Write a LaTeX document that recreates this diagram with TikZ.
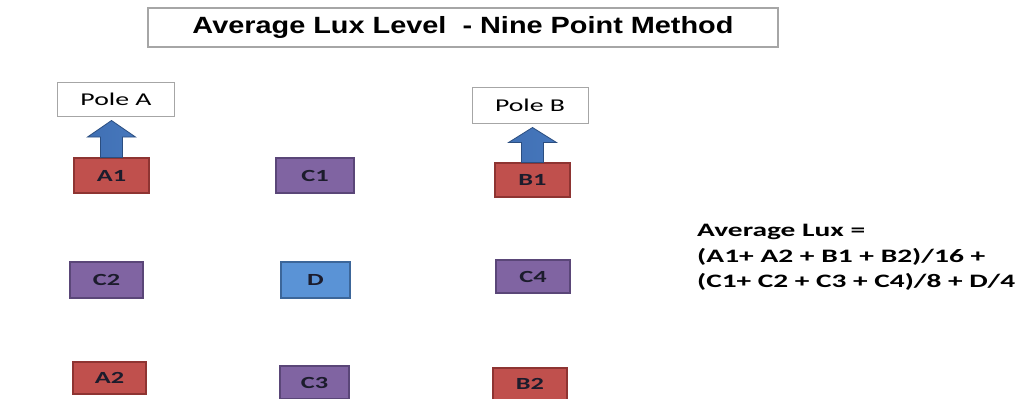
\documentclass[tikz,border=0pt]{standalone}
\usepackage{fontspec}
\usepackage{graphicx}
\setmainfont{Carlito}
\newfontfamily\titlefont{Liberation Sans}
\usetikzlibrary{calc}
\definecolor{redF}{HTML}{C0504D}
\definecolor{redD}{HTML}{8E3432}
\definecolor{purF}{HTML}{8064A2}
\definecolor{purD}{HTML}{5A4678}
\definecolor{bluF}{HTML}{5A93D6}
\definecolor{bluD}{HTML}{3C6699}
\definecolor{arrL}{HTML}{4070B4}
\definecolor{arrM}{HTML}{8DB3E3}
\definecolor{arrR}{HTML}{4677BC}
\definecolor{arrD}{HTML}{2B4E80}
\definecolor{txtD}{HTML}{1C1C2C}
\definecolor{frameG}{HTML}{A6A6A6}
\newcommand\lbl[1]{\scalebox{1.55}[1]{\bfseries\fontsize{17pt}{17pt}\selectfont #1}}
\begin{document}
\begin{tikzpicture}[x=1pt,y=-1pt,
  cell/.style={inner sep=0pt, line width=1.2pt, text=txtD},
  redbox/.style={cell, fill=redF, draw=redD},
  purbox/.style={cell, fill=purF, draw=purD},
  blubox/.style={cell, fill=bluF, draw=bluD},
  polebox/.style={draw=frameG, line width=1pt, fill=white, inner sep=0pt},
  titlebox/.style={draw=frameG, line width=1.5pt, fill=white, inner sep=0pt},
  arrowstyle/.style={left color=arrL, middle color=arrM, right color=arrR, draw=arrD, line width=0.8pt, line join=miter}]
\useasboundingbox[fill=white] (0,0) rectangle (1018,399);

\node[titlebox, minimum width=630pt, minimum height=39pt] (title) at (463,27.5)
  {\resizebox{541pt}{\height}{\titlefont\bfseries\fontsize{23.5pt}{23.5pt}\selectfont Average Lux Level \ - Nine Point Method}};

\node[polebox, minimum width=117pt, minimum height=34pt] (PoleA) at (116,99.5)
  {\resizebox{71pt}{\height}{\fontsize{18pt}{18pt}\selectfont Pole A}};
\node[polebox, minimum width=116pt, minimum height=36pt] (PoleB) at (530,105)
  {\resizebox{70pt}{\height}{\fontsize{18pt}{18pt}\selectfont Pole B}};

\node[redbox, minimum width=75pt, minimum height=35pt] (A1) at (111.5,175.5) {\lbl{A1}};
\node[purbox, minimum width=78pt, minimum height=35pt] (C1) at (315,175.5) {\lbl{C1}};
\node[redbox, minimum width=75pt, minimum height=34pt] (B1) at (532.5,180) {\lbl{B1}};
\node[purbox, minimum width=73pt, minimum height=36pt] (C2) at (106.5,280) {\lbl{C2}};
\node[blubox, minimum width=69pt, minimum height=36pt] (D) at (315.5,280) {\lbl{D}};
\node[purbox, minimum width=74pt, minimum height=33pt] (C4) at (533,276.5) {\lbl{C4}};
\node[redbox, minimum width=73pt, minimum height=32pt] (A2) at (109.5,378) {\lbl{A2}};
\node[purbox, minimum width=69pt, minimum height=33pt] (C3) at (314.5,382.5) {\lbl{C3}};
\node[redbox, minimum width=74pt, minimum height=32pt] (B2) at (530,384) {\lbl{B2}};

\path[arrowstyle] let \p1=(A1.north), \p2=(PoleA.south) in
  (\x1-11pt,\y1) -- (\x1-11pt,\y2-20pt) -- (\x1-24pt,\y2-20pt) -- (\x1,\y2-3.5pt)
  -- (\x1+24pt,\y2-20pt) -- (\x1+11pt,\y2-20pt) -- (\x1+11pt,\y1) -- cycle;
\path[arrowstyle] let \p1=(B1.north), \p2=(PoleB.south) in
  (\x1-11pt,\y1) -- (\x1-11pt,\y2-19pt) -- (\x1-24pt,\y2-19pt) -- (\x1,\y2-4pt)
  -- (\x1+24pt,\y2-19pt) -- (\x1+11pt,\y2-19pt) -- (\x1+11pt,\y1) -- cycle;

\node[anchor=north west, inner sep=0pt, align=left, text=black,
  font=\bfseries\fontsize{19pt}{25.5pt}\selectfont] (formula) at (697,224)
  {\resizebox{168pt}{\height}{Average Lux =}\\
   \resizebox{288pt}{\height}{(A1+ A2 + B1 + B2)/16 +}\\
   \resizebox{318pt}{\height}{(C1+ C2 + C3 + C4)/8 + D/4}};
\end{tikzpicture}
\end{document}
